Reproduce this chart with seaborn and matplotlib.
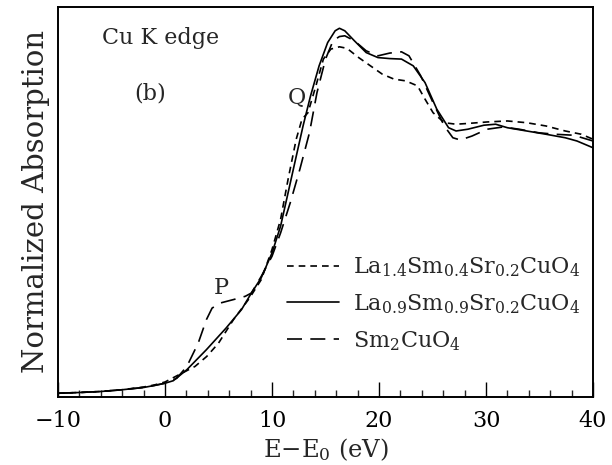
import matplotlib
matplotlib.use("Agg")
import matplotlib.pyplot as plt
from matplotlib.ticker import MultipleLocator
import seaborn as sns
import pandas as pd

# Cu K-edge XANES spectra, energy relative to edge (eV) vs normalized absorption
e_la14 = [-10, -8, -6, -4, -2, -1, 0, 1.3, 2.8, 3.9, 5.0, 6.4, 7.9, 9.0, 10.0, 10.8, 11.5,
          12.26, 12.8, 13.36, 14.1, 14.8, 15.5, 16.3, 17.0, 18.1, 19.2, 20.3, 21.4, 22.5,
          23.6, 24.3, 25.05, 26.1, 27.2, 28.3, 30.1, 32.0, 33.8, 35.6, 37.4, 38.9, 40.0]
mu_la14 = [0.013, 0.016, 0.020, 0.027, 0.038, 0.046, 0.058, 0.087, 0.120, 0.160, 0.213,
           0.307, 0.393, 0.467, 0.587, 0.707, 0.867, 1.027, 1.107, 1.133, 1.240, 1.347,
           1.387, 1.396, 1.390, 1.353, 1.320, 1.287, 1.267, 1.260, 1.240, 1.187, 1.133,
           1.093, 1.087, 1.090, 1.096, 1.100, 1.093, 1.080, 1.060, 1.047, 1.027]

e_la09 = [-10, -8, -6, -4, -2, -1, 0, 0.77, 2.04, 3.87, 5.7, 7.15, 8.07, 8.98, 10.0, 10.8,
          11.5, 12.2, 12.9, 13.6, 14.4, 15.2, 15.9, 16.3, 16.8, 17.7, 18.8, 19.9, 21.0,
          22.1, 23.2, 24.3, 25.4, 26.5, 27.2, 28.3, 29.8, 30.9, 32.0, 33.8, 35.6, 37.4,
          38.5, 40.0]
mu_la09 = [0.013, 0.016, 0.020, 0.027, 0.036, 0.044, 0.053, 0.063, 0.107, 0.187, 0.273,
           0.347, 0.413, 0.473, 0.573, 0.680, 0.813, 0.947, 1.080, 1.200, 1.320, 1.413,
           1.460, 1.470, 1.460, 1.420, 1.373, 1.353, 1.349, 1.347, 1.320, 1.253, 1.147,
           1.073, 1.060, 1.067, 1.083, 1.087, 1.073, 1.060, 1.047, 1.033, 1.020, 0.993]

e_sm2 = [-10, -8, -6, -4, -2, -1, 0, 1.1, 2.04, 3.1, 3.87, 4.4, 5.15, 6.4, 7.5, 8.07, 9.0,
         10.0, 10.8, 11.7, 12.6, 13.5, 14.2, 15.0, 15.7, 16.3, 16.8, 17.7, 18.8, 19.9,
         21.0, 22.1, 22.8, 23.9, 25.05, 26.1, 26.9, 27.6, 28.7, 30.1, 31.6, 33.1, 34.9,
         36.4, 38.2, 40.0]
mu_sm2 = [0.013, 0.016, 0.020, 0.027, 0.036, 0.044, 0.053, 0.073, 0.120, 0.213, 0.307,
          0.353, 0.373, 0.387, 0.400, 0.413, 0.480, 0.560, 0.653, 0.773, 0.907, 1.053,
          1.213, 1.347, 1.420, 1.437, 1.440, 1.420, 1.380, 1.360, 1.371, 1.376, 1.360,
          1.280, 1.173, 1.080, 1.033, 1.024, 1.040, 1.067, 1.076, 1.067, 1.053, 1.047,
          1.043, 1.020]

labels = [r"La$_{1.4}$Sm$_{0.4}$Sr$_{0.2}$CuO$_4$",
          r"La$_{0.9}$Sm$_{0.9}$Sr$_{0.2}$CuO$_4$",
          r"Sm$_2$CuO$_4$"]
xticks = [-10, 0, 10, 20, 30, 40]

sns.set_theme(style="ticks")
plt.rcParams["font.family"] = ["DejaVu Serif"]
plt.rcParams["mathtext.fontset"] = "dejavuserif"

fig = plt.figure(figsize=(6.12, 4.65), dpi=100)
ax = fig.add_axes([0.0948, 0.1473, 0.8742, 0.8366])

styles = [(0, (4, 3)), "-", (0, (9, 5))]
series = [(e_la14, mu_la14), (e_la09, mu_la09), (e_sm2, mu_sm2)]
for (ex, mu), lab, ls in zip(series, labels, styles):
    df = pd.DataFrame({"E": ex, "mu": mu})
    sns.lineplot(data=df, x="E", y="mu", ax=ax, color="black", linewidth=1.2,
                 linestyle=ls, label=lab, sort=False)

ax.set_xlim(-10, 40)
ax.set_ylim(0, 1.553)
ax.set_xticks(xticks)
ax.set_xticklabels(["\u221210" if t < 0 else str(t) for t in xticks], fontsize=16)
ax.xaxis.set_minor_locator(MultipleLocator(2))
ax.tick_params(axis="x", which="major", direction="in", length=11, width=1.0,
               pad=10, top=False, colors="black")
ax.tick_params(axis="x", which="minor", direction="in", length=5, width=1.0, top=False)
ax.set_yticks([])
for sp in ax.spines.values():
    sp.set_visible(True)
    sp.set_linewidth(1.4)
    sp.set_color("black")

ax.set_xlabel(r"E$-$E$_0$ (eV)", fontsize=17.5, labelpad=3)
ax.set_ylabel("Normalized Absorption", fontsize=21, labelpad=6)

ax.text(-5.9, 1.433, "Cu K edge", fontsize=16, va="center", ha="left")
ax.text(-1.4, 1.21, "(b)", fontsize=16, va="center", ha="center")
ax.text(5.3, 0.433, "P", fontsize=16, va="center", ha="center")
ax.text(12.3, 1.19, "Q", fontsize=16, va="center", ha="center")

ax.legend(loc="upper left", bbox_to_anchor=(0.428, 0.363), frameon=False,
          fontsize=16, handlelength=2.35, handletextpad=0.6, labelspacing=0.6,
          borderpad=0, borderaxespad=0)

fig.savefig("out.png", dpi=100)
